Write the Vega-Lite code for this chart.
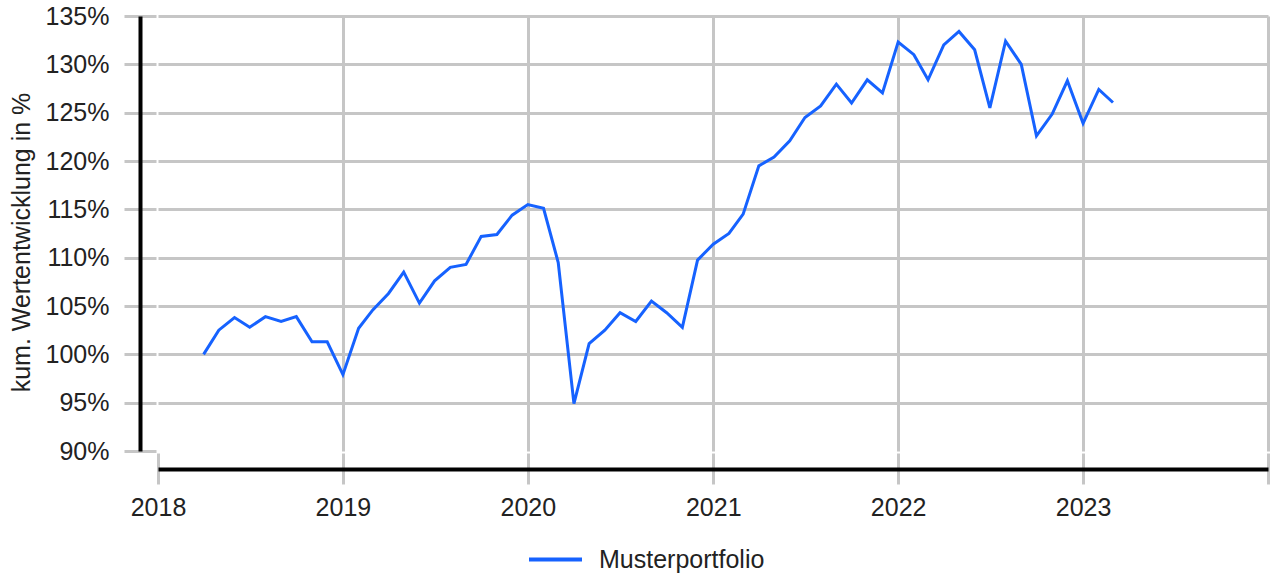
{
  "$schema": "https://vega.github.io/schema/vega-lite/v6.json",
  "width": 1110,
  "height": 435,
  "autosize": {"type": "none"},
  "padding": {"left": 158, "top": 16, "right": 6, "bottom": 127},
  "background": "white",
  "config": {
    "view": {"stroke": null},
    "font": "Liberation Sans",
    "axis": {"labelFont": "Liberation Sans", "titleFont": "Liberation Sans"}
  },
  "data": {
    "values": [
      {"d": "2018-04-01", "v": 100.0},
      {"d": "2018-05-01", "v": 102.5},
      {"d": "2018-06-01", "v": 103.8},
      {"d": "2018-07-01", "v": 102.8},
      {"d": "2018-08-01", "v": 103.9},
      {"d": "2018-09-01", "v": 103.4},
      {"d": "2018-10-01", "v": 103.9},
      {"d": "2018-11-01", "v": 101.3},
      {"d": "2018-12-01", "v": 101.3},
      {"d": "2019-01-01", "v": 97.9},
      {"d": "2019-02-01", "v": 102.7},
      {"d": "2019-03-01", "v": 104.6},
      {"d": "2019-04-01", "v": 106.3},
      {"d": "2019-05-01", "v": 108.5},
      {"d": "2019-06-01", "v": 105.3},
      {"d": "2019-07-01", "v": 107.6},
      {"d": "2019-08-01", "v": 109.0},
      {"d": "2019-09-01", "v": 109.3},
      {"d": "2019-10-01", "v": 112.2},
      {"d": "2019-11-01", "v": 112.4},
      {"d": "2019-12-01", "v": 114.4},
      {"d": "2020-01-01", "v": 115.5},
      {"d": "2020-02-01", "v": 115.1},
      {"d": "2020-03-01", "v": 109.5},
      {"d": "2020-04-01", "v": 94.9},
      {"d": "2020-05-01", "v": 101.1},
      {"d": "2020-06-01", "v": 102.5},
      {"d": "2020-07-01", "v": 104.3},
      {"d": "2020-08-01", "v": 103.4},
      {"d": "2020-09-01", "v": 105.5},
      {"d": "2020-10-01", "v": 104.3},
      {"d": "2020-11-01", "v": 102.8},
      {"d": "2020-12-01", "v": 109.75},
      {"d": "2021-01-01", "v": 111.4},
      {"d": "2021-02-01", "v": 112.5},
      {"d": "2021-03-01", "v": 114.5},
      {"d": "2021-04-01", "v": 119.5},
      {"d": "2021-05-01", "v": 120.4},
      {"d": "2021-06-01", "v": 122.1},
      {"d": "2021-07-01", "v": 124.5},
      {"d": "2021-08-01", "v": 125.7},
      {"d": "2021-09-01", "v": 127.95},
      {"d": "2021-10-01", "v": 126.0},
      {"d": "2021-11-01", "v": 128.4},
      {"d": "2021-12-01", "v": 127.05},
      {"d": "2022-01-01", "v": 132.3},
      {"d": "2022-02-01", "v": 131.0},
      {"d": "2022-03-01", "v": 128.4},
      {"d": "2022-04-01", "v": 132.0},
      {"d": "2022-05-01", "v": 133.4},
      {"d": "2022-06-01", "v": 131.5},
      {"d": "2022-07-01", "v": 125.5},
      {"d": "2022-08-01", "v": 132.4},
      {"d": "2022-09-01", "v": 130.0},
      {"d": "2022-10-01", "v": 122.6},
      {"d": "2022-11-01", "v": 124.85},
      {"d": "2022-12-01", "v": 128.3},
      {"d": "2023-01-01", "v": 123.9},
      {"d": "2023-02-01", "v": 127.4},
      {"d": "2023-03-01", "v": 126.05}
    ]
  },
  "layer": [
    {
      "mark": {"type": "line", "strokeWidth": 3, "strokeJoin": "miter", "clip": false},
      "encoding": {
        "x": {
          "field": "d", "type": "temporal",
          "scale": {"type": "utc", "domain": [{"year": 2018, "month": 1, "date": 1, "utc": true}, {"year": 2024, "month": 1, "date": 1, "utc": true}]},
          "axis": {
            "title": null,
            "offset": 2,
            "domain": false,
            "values": [
              {"year": 2018, "month": 1, "date": 1, "utc": true},
              {"year": 2019, "month": 1, "date": 1, "utc": true},
              {"year": 2020, "month": 1, "date": 1, "utc": true},
              {"year": 2021, "month": 1, "date": 1, "utc": true},
              {"year": 2022, "month": 1, "date": 1, "utc": true},
              {"year": 2023, "month": 1, "date": 1, "utc": true},
              {"year": 2024, "month": 1, "date": 1, "utc": true}
            ],
            "format": "%Y",
            "labelExpr": "datum.label == '2024' ? '' : datum.label",
            "tickSize": 31,
            "tickWidth": 3,
            "tickColor": "#c6c6c6",
            "labelPadding": 11,
            "labelFontSize": 25,
            "labelColor": "#222222",
            "labelFlush": false,
            "labelOverlap": false,
            "grid": true,
            "gridColor": "#c6c6c6",
            "gridWidth": 3,
            "gridOpacity": {"condition": {"test": "utcyear(datum.value) == 2018", "value": 0}, "value": 1}
          }
        },
        "y": {
          "field": "v", "type": "quantitative",
          "scale": {"domain": [90, 135], "zero": false, "nice": false},
          "axis": {
            "title": null,
            "offset": 2,
            "domain": false,
            "values": [90, 95, 100, 105, 110, 115, 120, 125, 130, 135],
            "labelExpr": "datum.value + '%'",
            "tickSize": 32,
            "tickWidth": 3,
            "tickColor": "#c6c6c6",
            "labelPadding": 15,
            "labelFontSize": 25,
            "labelColor": "#222222",
            "labelOverlap": false,
            "labelFlush": false,
            "grid": true,
            "gridColor": "#c6c6c6",
            "gridWidth": 3,
            "gridOpacity": {"condition": {"test": "datum.value == 90", "value": 0}, "value": 1}
          }
        },
        "color": {
          "datum": "Musterportfolio",
          "type": "nominal",
          "scale": {"range": ["#1662ff"]},
          "legend": {
            "title": null,
            "orient": "none",
            "legendX": 369,
            "legendY": 515,
            "symbolType": "stroke",
            "symbolSize": 2809,
            "symbolStrokeWidth": 4,
            "labelFontSize": 25,
            "labelColor": "#222222",
            "labelFont": "Liberation Sans",
            "labelLimit": 0,
            "labelOffset": 15
          }
        }
      }
    },
    {
      "mark": {"type": "line", "strokeOpacity": 0},
      "encoding": {
        "x": {
          "field": "d", "type": "temporal",
          "scale": {"type": "utc", "domain": [{"year": 2018, "month": 1, "date": 1, "utc": true}, {"year": 2024, "month": 1, "date": 1, "utc": true}]},
          "axis": {
            "orient": "bottom",
            "title": null,
            "offset": 18,
            "domain": true,
            "domainColor": "#000000",
            "domainWidth": 4,
            "ticks": false,
            "labels": false,
            "grid": false
          }
        },
        "y": {
          "field": "v", "type": "quantitative",
          "scale": {"domain": [90, 135], "zero": false, "nice": false},
          "axis": {
            "orient": "left",
            "title": "kum. Wertentwicklung in %",
            "titleFontSize": 25,
            "titleFontWeight": "normal",
            "titleColor": "#222222",
            "titleX": -111,
            "titleY": 226,
            "titleBaseline": "alphabetic",
            "titleAngle": -90,
            "offset": 18,
            "domain": true,
            "domainColor": "#000000",
            "domainWidth": 4,
            "ticks": false,
            "labels": false,
            "grid": false
          }
        }
      }
    }
  ],
  "resolve": {"scale": {"x": "independent", "y": "independent"}, "axis": {"x": "independent", "y": "independent"}}
}
